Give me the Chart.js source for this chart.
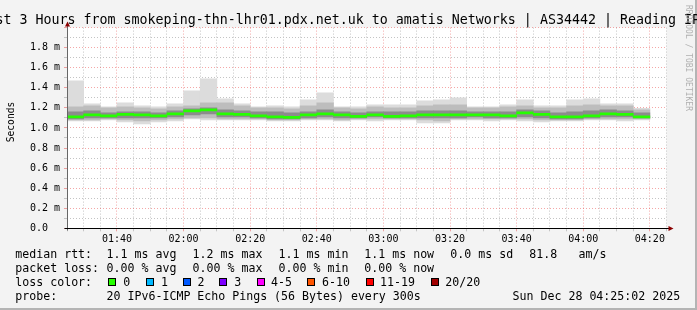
<!DOCTYPE html>
<html>
<head>
<meta charset="utf-8">
<title>SmokePing - last 3 hours</title>
<script src="https://cdn.jsdelivr.net/npm/chart.js@4.4.1/dist/chart.umd.min.js"></script>
<style>
  html, body { margin: 0; padding: 0; background: #f3f3f3; }
  canvas { display: block; }
</style>
</head>
<body>
<canvas id="smoke-chart" width="697" height="310"></canvas>
<script>
// 5 minute slots, 01:25 .. 04:20 (the 04:20 slot has no data yet)
const slots = ['01:25','01:30','01:35','01:40','01:45','01:50','01:55',
  '02:00','02:05','02:10','02:15','02:20','02:25','02:30','02:35','02:40','02:45','02:50','02:55',
  '03:00','03:05','03:10','03:15','03:20','03:25','03:30','03:35','03:40','03:45','03:50','03:55',
  '04:00','04:05','04:10','04:15','04:20'];

// rtt in ms
const maxRtt    = [1.47,1.24,1.21,1.25,1.22,1.21,1.24,1.37,1.49,1.29,1.24,1.21,1.22,1.21,1.28,1.35,1.21,1.21,1.23,1.23,1.23,1.27,1.28,1.30,1.21,1.21,1.23,1.28,1.22,1.22,1.28,1.29,1.24,1.24,1.195];
const upperRtt  = [1.21,1.22,1.20,1.21,1.20,1.19,1.21,1.22,1.25,1.25,1.22,1.20,1.20,1.19,1.22,1.25,1.20,1.19,1.21,1.20,1.20,1.22,1.23,1.23,1.20,1.20,1.21,1.22,1.20,1.20,1.22,1.23,1.22,1.22,1.18];
const coreHiRtt = [1.16,1.17,1.15,1.16,1.16,1.15,1.17,1.19,1.20,1.18,1.17,1.16,1.16,1.15,1.16,1.18,1.16,1.15,1.16,1.16,1.16,1.17,1.17,1.17,1.16,1.16,1.16,1.18,1.17,1.15,1.16,1.17,1.18,1.17,1.15];
const medianRtt = [1.11,1.13,1.12,1.135,1.13,1.12,1.14,1.17,1.18,1.14,1.135,1.12,1.11,1.105,1.13,1.14,1.13,1.115,1.13,1.115,1.12,1.13,1.13,1.13,1.13,1.13,1.12,1.15,1.135,1.11,1.11,1.12,1.14,1.135,1.11];
const coreLoRtt = [1.09,1.10,1.10,1.10,1.10,1.10,1.11,1.13,1.14,1.11,1.11,1.10,1.09,1.09,1.10,1.11,1.10,1.10,1.11,1.10,1.10,1.10,1.10,1.10,1.11,1.10,1.10,1.11,1.10,1.09,1.09,1.10,1.11,1.11,1.10];
const lowerRtt  = [1.08,1.08,1.09,1.08,1.07,1.08,1.09,1.10,1.10,1.09,1.09,1.09,1.08,1.08,1.09,1.09,1.08,1.09,1.09,1.09,1.09,1.08,1.07,1.09,1.09,1.09,1.09,1.09,1.08,1.08,1.08,1.09,1.09,1.09,1.09];
const minRtt    = [1.07,1.07,1.08,1.06,1.04,1.06,1.07,1.09,1.08,1.08,1.08,1.08,1.07,1.07,1.08,1.08,1.07,1.08,1.07,1.08,1.08,1.05,1.05,1.08,1.08,1.07,1.08,1.07,1.06,1.07,1.07,1.08,1.08,1.07,1.08];

// axis labels
const xTickLabels = ['01:40','02:00','02:20','02:40','03:00','03:20','03:40','04:00','04:20'];
const yTickLabels = ['0.0  ','0.2 m','0.4 m','0.6 m','0.8 m','1.0 m','1.2 m','1.4 m','1.6 m','1.8 m'];

// legend texts
const rttStats  = ['1.1 ms avg','1.2 ms max','1.1 ms min','1.1 ms now','0.0 ms sd','81.8','am/s'];
const lossStats = ['0.00 % avg','0.00 % max','0.00 % min','0.00 % now'];
const lossLabels = ['0','1','2','3','4-5','6-10','11-19','20/20'];
const lossColors = ['#26ff00','#00b8ff','#0059ff','#7e00ff','#ff00ff','#ff5500','#ff0000','#a10000'];

const MONO = '"DejaVu Sans Mono", "Liberation Mono", monospace';
const GRID_GREY = '#c4c4c4';
const GRID_RED = 'rgba(230, 60, 60, 0.45)';

const band = (lo, hi) => lo.map((v, i) => [v, hi[i]]);

const decorations = {
  id: 'decorations',
  beforeDraw(chart) {
    const {ctx, chartArea: a, width, height} = chart;
    ctx.save();
    ctx.fillStyle = '#f3f3f3';
    ctx.fillRect(0, 0, width, height);
    ctx.fillStyle = '#ffffff';
    ctx.fillRect(a.left, a.top, a.right - a.left, a.bottom - a.top);
    // frame shade
    ctx.fillStyle = '#b4b4b4';
    ctx.fillRect(width - 2, 0, 2, height);
    ctx.fillRect(0, height - 2, width, 2);
    ctx.restore();
  },
  afterDraw(chart) {
    const {ctx, chartArea: a} = chart;
    ctx.save();

    // axes
    const x0 = Math.round(a.left) + 0.5;
    const y0 = Math.round(a.bottom) + 0.5;
    ctx.lineWidth = 1;
    ctx.strokeStyle = '#666';
    ctx.beginPath();
    ctx.moveTo(x0, y0 + 2);
    ctx.lineTo(x0, a.top - 3);
    ctx.stroke();
    ctx.strokeStyle = '#000';
    ctx.beginPath();
    ctx.moveTo(x0 - 3, y0);
    ctx.lineTo(a.right + 3, y0);
    ctx.stroke();
    ctx.fillStyle = '#8b0000';
    ctx.beginPath();
    ctx.moveTo(x0 - 2.5, a.top - 1);
    ctx.lineTo(x0 + 2.5, a.top - 1);
    ctx.lineTo(x0, a.top - 6);
    ctx.fill();
    ctx.beginPath();
    ctx.moveTo(a.right + 2, y0 - 2.5);
    ctx.lineTo(a.right + 2, y0 + 2.5);
    ctx.lineTo(a.right + 7, y0);
    ctx.fill();

    // title, clipped on both sides like the original
    ctx.fillStyle = '#000';
    ctx.font = '13.3px ' + MONO;
    ctx.textBaseline = 'alphabetic';
    ctx.textAlign = 'left';
    ctx.fillText('Last 3 Hours from smokeping-thn-lhr01.pdx.net.uk to amatis Networks | AS34442 | Reading IPv6', -20.5, 24);

    // y axis title
    ctx.save();
    ctx.translate(13.5, 122);
    ctx.rotate(-Math.PI / 2);
    ctx.font = '9.6px ' + MONO;
    ctx.textAlign = 'center';
    ctx.textBaseline = 'alphabetic';
    ctx.fillText('Seconds', 0, 0);
    ctx.restore();

    // rrdtool watermark
    ctx.save();
    ctx.translate(688, 5);
    ctx.rotate(Math.PI / 2);
    ctx.font = '8px ' + MONO;
    ctx.fillStyle = '#b0b0b0';
    ctx.textAlign = 'left';
    ctx.textBaseline = 'middle';
    ctx.fillText('RRDTOOL / TOBI OETIKER', 0, 0);
    ctx.restore();

    // legend
    ctx.font = '11.6px ' + MONO;
    ctx.fillStyle = '#000';
    ctx.textAlign = 'left';
    ctx.textBaseline = 'alphabetic';
    const rows = [258.3, 272, 286, 300];
    ctx.fillText('median rtt:', 15.3, rows[0]);
    [106.6, 192.6, 278.6, 364.3, 450.3, 529.3, 578.6].forEach((x, i) => ctx.fillText(rttStats[i], x, rows[0]));
    ctx.fillText('packet loss:', 15.3, rows[1]);
    [106.6, 192.6, 278.6, 364.3].forEach((x, i) => ctx.fillText(lossStats[i], x, rows[1]));
    ctx.fillText('loss color:', 15.3, rows[2]);
    const boxX = [108, 146, 182.5, 219, 256.5, 307, 365.5, 430.5];
    const textX = [123.3, 161, 197.6, 234.3, 271, 322, 380, 445.3];
    lossLabels.forEach((lbl, i) => {
      const bx = Math.round(boxX[i]);
      ctx.fillStyle = lossColors[i];
      ctx.fillRect(bx, 278, 8, 8);
      ctx.strokeStyle = '#000';
      ctx.lineWidth = 1;
      ctx.strokeRect(bx + 0.5, 278.5, 7, 7);
      ctx.fillStyle = '#000';
      ctx.fillText(lbl, textX[i], rows[2]);
    });
    ctx.fillText('probe:', 15.3, rows[3]);
    ctx.fillText('20 IPv6-ICMP Echo Pings (56 Bytes) every 300s', 106.6, rows[3]);
    ctx.fillText('Sun Dec 28 04:25:02 2025', 512.6, rows[3]);

    ctx.restore();
  }
};

const barOpts = {
  xAxisID: 'x',
  yAxisID: 'y',
  grouped: false,
  barPercentage: 1,
  categoryPercentage: 1,
  borderWidth: 0,
  borderSkipped: false
};

const isMajorX = c => !!c.tick && Number.isInteger((c.tick.value - 15) / 20);
const isMajorY = c => !!c.tick && Math.round(c.tick.value * 10) % 2 === 0;

new Chart(document.getElementById('smoke-chart'), {
  type: 'bar',
  data: {
    labels: slots,
    datasets: [
      { ...barOpts, label: 'median', order: 0, data: medianRtt.map(v => [v - 0.011, v + 0.011]), backgroundColor: '#26ff00' },
      { ...barOpts, label: 'core', order: 1, data: band(coreLoRtt, coreHiRtt), backgroundColor: '#8c8c8c' },
      { ...barOpts, label: 'inner', order: 2, data: band(lowerRtt, upperRtt), backgroundColor: '#bdbdbd' },
      { ...barOpts, label: 'outer', order: 3, data: band(minRtt, maxRtt), backgroundColor: '#dcdcdc' }
    ]
  },
  options: {
    responsive: false,
    animation: false,
    events: [],
    layout: { padding: { top: 27.6, right: 30.5, bottom: 0, left: 0 } },
    plugins: {
      legend: { display: false },
      tooltip: { enabled: false },
      title: { display: false }
    },
    scales: {
      x: {
        type: 'category',
        display: false,
        offset: true
      },
      xt: {
        type: 'linear',
        position: 'bottom',
        min: 0,
        max: 180,
        offset: false,
        z: 1,
        afterFit: s => { s.height = 81.7; },
        ticks: {
          stepSize: 5,
          autoSkip: false,
          maxTicksLimit: 100,
          maxRotation: 0,
          padding: 2,
          color: '#000',
          font: { family: MONO, size: 10 },
          callback: v => {
            const k = (v - 15) / 20;
            return Number.isInteger(k) ? xTickLabels[k] : '';
          }
        },
        grid: {
          offset: false,
          color: c => (isMajorX(c) ? GRID_RED : GRID_GREY),
          lineWidth: 1,
          tickLength: 3
        },
        border: { display: false, dash: [1, 2] }
      },
      y: {
        min: 0,
        max: 2.0,
        z: 1,
        afterFit: s => { s.width = 67; },
        ticks: {
          stepSize: 0.1,
          autoSkip: false,
          maxTicksLimit: 100,
          padding: 4,
          color: '#000',
          font: { family: MONO, size: 10 },
          callback: v => {
            const t = Math.round(v * 10);
            return (t % 2 === 0 && t < 20) ? yTickLabels[t / 2] : '';
          }
        },
        grid: {
          color: c => (isMajorY(c) ? GRID_RED : GRID_GREY),
          lineWidth: 1,
          tickLength: 3
        },
        border: { display: false, dash: [1, 2] }
      }
    }
  },
  plugins: [decorations]
});
</script>
</body>
</html>
